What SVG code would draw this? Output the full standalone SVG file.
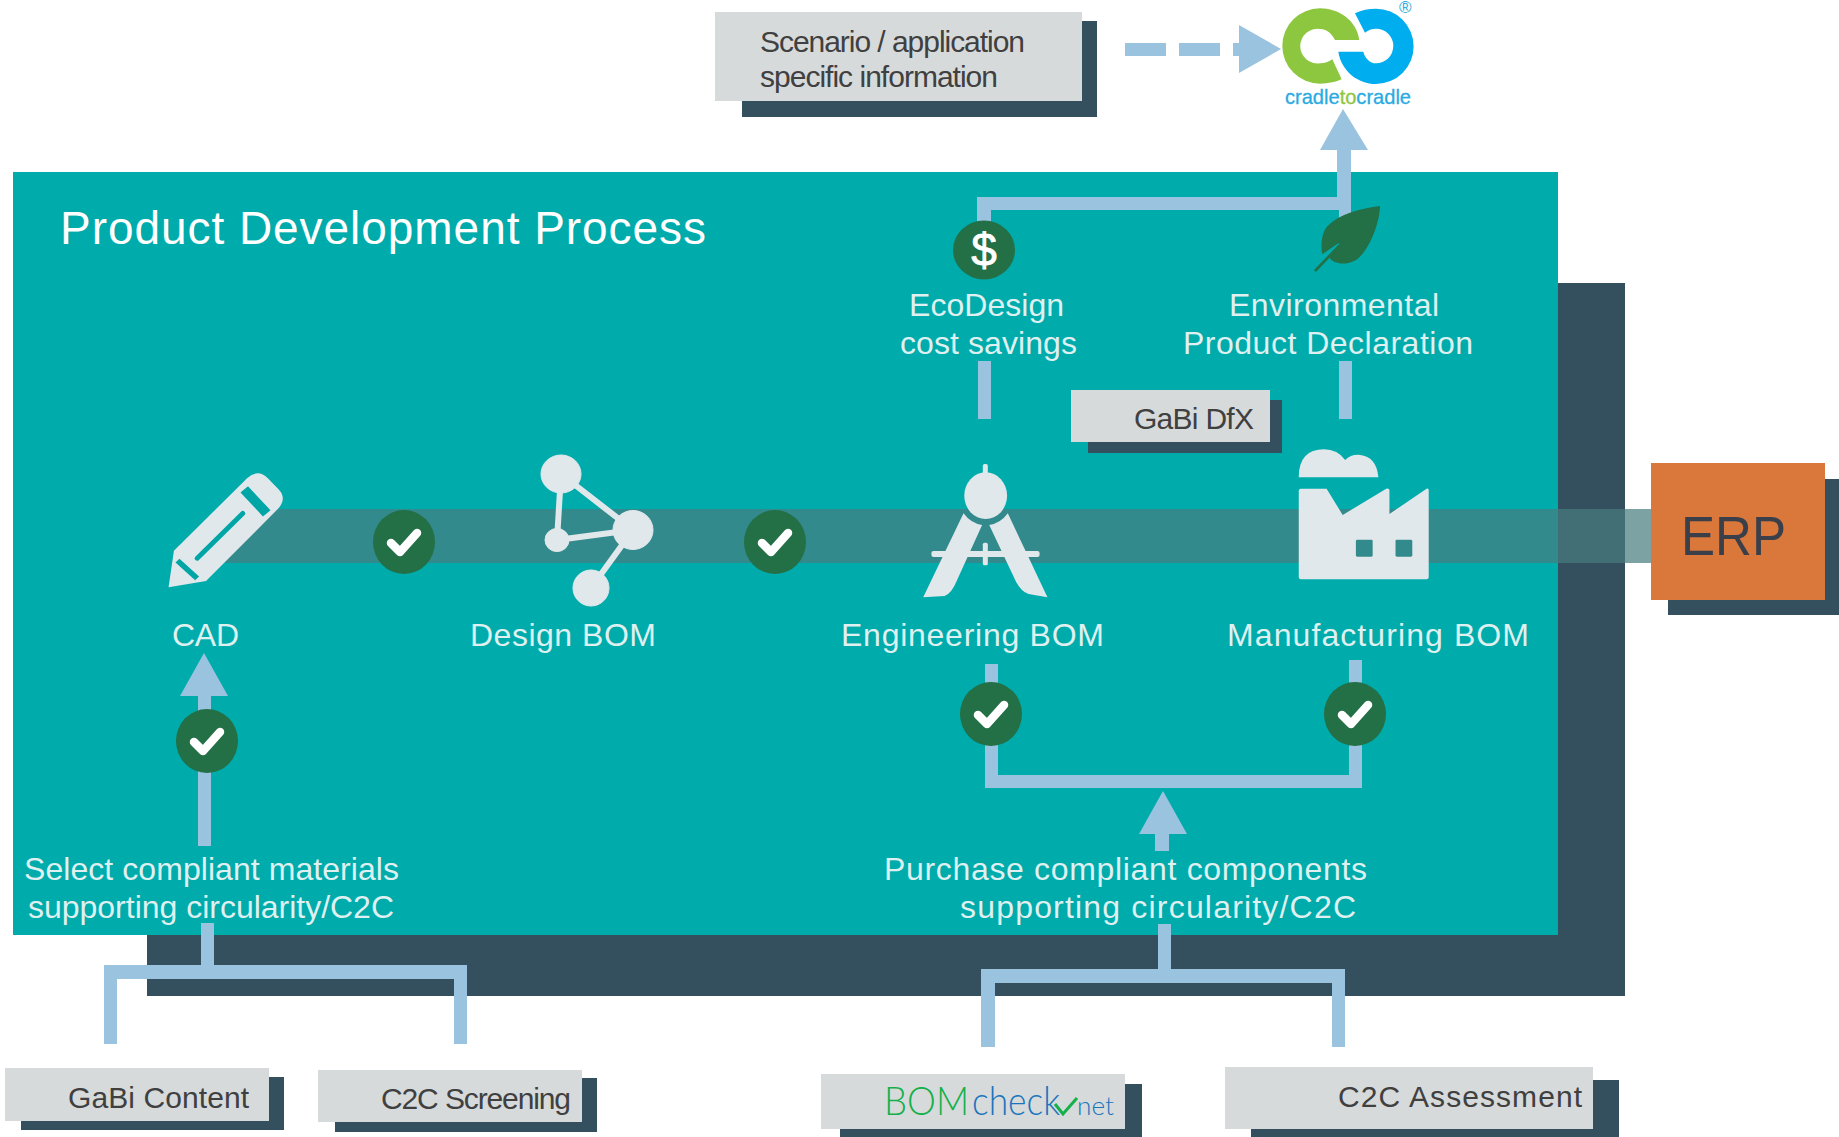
<svg xmlns="http://www.w3.org/2000/svg" width="1839" height="1137" viewBox="0 0 1839 1137">
<style>
text{font-family:"Liberation Sans",Arial,sans-serif}
.lb{font-size:32px;fill:#dff0f0}
.bx{font-size:30px;fill:#404040}
.grey{fill:#d7dadb}
.shadow{fill:#34505f}
.conn{fill:#9ac3df}
.icon{fill:#e1e8eb}
.okc{fill:#236f46}
.okm{fill:none;stroke:#fff;stroke-width:8.5;stroke-linecap:round;stroke-linejoin:round}
</style>
<defs>
<g id="ok"><ellipse rx="31" ry="32" class="okc"/><path d="M-13,1 L-4,10 L13,-9" class="okm"/></g>
</defs>
<rect id="backing" class="shadow" x="147" y="283" width="1478" height="713"/>
<rect id="process-area" x="13" y="172" width="1545" height="763" fill="#00abab"/>
<rect id="band" x="225" y="509" width="1430" height="54" fill="#487c7f" fill-opacity=".71"/>
<text x="60" y="244" font-size="46" fill="#fff" textLength="646">Product Development Process</text>

<g id="connectors">
<rect class="conn" x="1125" y="43" width="41" height="13"/>
<rect class="conn" x="1179" y="43" width="41" height="13"/>
<rect class="conn" x="1233" y="43" width="8" height="13"/>
<path class="conn" d="M1239,25 L1281,49 L1239,73 Z"/>
<path class="conn" d="M1337,200 V150 H1320 L1343,109 L1368,150 H1351 V225 H1339 V210 H977 V222 H991 V210 H977 V197 H1337 Z"/>
<rect class="conn" x="978" y="361" width="13" height="58"/>
<rect class="conn" x="1339" y="361" width="13" height="58"/>
<path class="conn" d="M198,846 V696 H180 L204,653 L228,696 H211 V846 Z"/>
<path class="conn" d="M201,923 H214 V965 H467 V1044 H454 V979 H117 V1044 H104 V965 H201 Z"/>
<path class="conn" d="M1158,924 H1171 V969 H1345 V1047 H1332 V983 H995 V1047 H981 V969 H1158 Z"/>
<path class="conn" d="M985,664 H998 V775 H1349 V660 H1362 V788 H985 Z"/>
<path class="conn" d="M1155,851 V834 H1139 L1163,791 L1187,834 H1169 V851 Z"/>
</g>

<g id="logo-c2c">
<g transform="translate(1100,0) scale(.3333)">
<path fill="#8dc63f" d="M778,120 C770,60 715,25 660,25 A113,113 0 0 0 660,251 C685,251 710,245 725,238 L697,178 C685,186 675,190 660,190 A52,52 0 1 1 660,87 C680,87 695,100 705,120 Z"/>
<path fill="#00aeef" d="M715,155 C725,215 775,252 828,252 A113,113 0 0 0 828,26 C805,26 785,30 765,40 L795,98 C805,90 815,86 828,86 A52,52 0 1 1 828,190 C810,190 795,175 790,155 Z"/>
</g>
<text x="1399" y="13" font-size="17" fill="#29abe2">®</text>
<text x="1285" y="104" font-size="21" textLength="126" lengthAdjust="spacingAndGlyphs" fill="#29abe2" stroke="#29abe2" stroke-width=".3">cradle<tspan fill="#8dc63f" stroke="#8dc63f">to</tspan>cradle</text>
</g>

<g id="scenario"><rect class="shadow" x="742" y="21" width="355" height="96"/><rect class="grey" x="715" y="12" width="367" height="89"/>
<text class="bx" x="760" y="52" textLength="265">Scenario / application</text><text class="bx" x="760" y="87" textLength="238">specific information</text></g>

<g id="ecodesign"><ellipse class="okc" cx="984" cy="250" rx="31" ry="29.5"/><text x="984" y="266" font-size="46" fill="#fff" stroke="#fff" stroke-width=".8" text-anchor="middle">$</text>
<text class="lb" x="909" y="316" textLength="155">EcoDesign</text><text class="lb" x="900" y="354" textLength="177">cost savings</text></g>

<g id="epd"><g transform="translate(1100,0) scale(.3333)"><path fill="#236f46" d="M840,618 C760,628 690,655 672,695 C660,725 665,760 668,762 L715,730 L722,735 L688,772 C700,795 750,800 780,770 C815,735 840,660 840,618 Z"/><path d="M720,735 L645,813" stroke="#236f46" stroke-width="8" fill="none"/></g>
<text class="lb" x="1229" y="316" textLength="210">Environmental</text><text class="lb" x="1183" y="354" textLength="290">Product Declaration</text></g>

<g id="gabi-dfx"><rect class="shadow" x="1088" y="400" width="194" height="53"/><rect class="grey" x="1071" y="390" width="199" height="52"/><text class="bx" x="1134" y="429" textLength="120">GaBi DfX</text></g>

<g id="cad"><g transform="translate(140,430) scale(.357,.3333)">
<path class="icon" d="M95,362 L300,145 Q330,115 358,145 L388,178 Q412,205 388,235 L185,453 L80,472 Z"/>
<path d="M160,385 L288,250" stroke="#00a5a5" stroke-width="14" stroke-linecap="round" fill="none"/>
<path d="M292,178 L355,250" stroke="#00a5a5" stroke-width="28" fill="none"/>
<path d="M105,392 L160,445" stroke="#00a5a5" stroke-width="16" fill="none"/></g>
<text class="lb" x="172" y="646" textLength="67">CAD</text></g>

<g id="design-bom"><g fill="#e1e8eb" stroke="#e1e8eb"><path d="M561,474 L633,530 L557,540 Z M633,530 L591,588" fill="none" stroke-width="6"/>
<ellipse cx="561" cy="474" rx="20" ry="19"/><ellipse cx="633" cy="530" rx="20" ry="19.5"/><ellipse cx="557" cy="540" rx="12" ry="11.5"/><ellipse cx="591" cy="588" rx="18" ry="18"/></g>
<text class="lb" x="470" y="646" textLength="186">Design BOM</text></g>

<g id="engineering-bom"><g class="icon" transform="translate(900,430) scale(.357,.3333)">
<rect x="232" y="102" width="14" height="40" rx="5"/><ellipse cx="240" cy="197" rx="60" ry="70"/>
<path d="M178,250 Q198,280 230,285 L160,450 Q145,490 125,498 L65,502 Z"/>
<path d="M302,250 Q282,280 250,285 L325,455 Q340,485 360,492 L413,502 Z"/>
<rect x="88" y="363" width="303" height="18" rx="6"/><rect x="232" y="338" width="14" height="68" rx="5"/></g>
<text class="lb" x="841" y="646" textLength="263">Engineering BOM</text></g>

<g id="manufacturing-bom"><g transform="translate(900,430) scale(.357,.3333)">
<path class="icon" d="M1117,182 Q1117,176 1123,176 L1195,176 L1240,255 L1362,176 Q1370,174 1371,180 L1371,252 L1475,176 Q1481,174 1481,180 L1481,442 Q1481,448 1475,448 L1123,448 Q1117,448 1117,442 Z"/>
<path class="icon" d="M1117,142 Q1117,58 1188,58 Q1225,58 1247,90 Q1262,73 1285,74 Q1335,78 1340,142 Z"/>
<rect x="1277" y="329" width="47" height="51" rx="4" fill="#338a8c"/><rect x="1388" y="329" width="47" height="51" rx="4" fill="#338a8c"/></g>
<text class="lb" x="1227" y="646" textLength="302">Manufacturing BOM</text></g>

<g id="erp"><rect class="shadow" x="1668" y="479" width="171" height="136"/><rect x="1651" y="463" width="174" height="137" fill="#da783c"/><text x="1681" y="555" font-size="56" fill="#3a3f4a" textLength="105" lengthAdjust="spacingAndGlyphs">ERP</text></g>

<g id="checks"><use href="#ok" x="404" y="542"/><use href="#ok" x="775" y="542"/><use href="#ok" x="207" y="741"/><use href="#ok" x="991" y="714"/><use href="#ok" x="1355" y="714"/></g>

<g id="select-materials"><text class="lb" x="24" y="880" textLength="375">Select compliant materials</text><text class="lb" x="28" y="918" textLength="366">supporting circularity/C2C</text></g>
<g id="purchase-components"><text class="lb" x="884" y="880" textLength="483">Purchase compliant components</text><text class="lb" x="960" y="918" textLength="396">supporting circularity/C2C</text></g>

<g id="gabi-content"><rect class="shadow" x="21" y="1077" width="263" height="53"/><rect class="grey" x="5" y="1068" width="264" height="53"/><text class="bx" x="68" y="1108" textLength="181">GaBi Content</text></g>
<g id="c2c-screening"><rect class="shadow" x="335" y="1078" width="262" height="54"/><rect class="grey" x="318" y="1070" width="264" height="52"/><text class="bx" x="381" y="1109" textLength="190">C2C Screening</text></g>
<g id="bomcheck"><rect class="shadow" x="840" y="1084" width="302" height="53"/><rect class="grey" x="821" y="1074" width="304" height="55"/>
<text x="884" y="1115" font-size="40" fill="#14b04a" textLength="85" lengthAdjust="spacingAndGlyphs" style="font-family:Lato,sans-serif;font-weight:300">BOM</text>
<text x="972" y="1115" font-size="40" fill="#1b75bc" textLength="88" lengthAdjust="spacingAndGlyphs" style="font-family:Lato,sans-serif;font-weight:300">check</text>
<path d="M1055,1104 L1063,1114 L1077,1098" fill="none" stroke="#14b04a" stroke-width="3"/>
<text x="1077" y="1115" font-size="26" fill="#1b75bc" textLength="37" lengthAdjust="spacingAndGlyphs" style="font-family:Lato,sans-serif;font-weight:300">net</text></g>
<g id="c2c-assessment"><rect class="shadow" x="1251" y="1080" width="368" height="57"/><rect class="grey" x="1225" y="1067" width="368" height="62"/><text class="bx" x="1338" y="1107" textLength="244">C2C Assessment</text></g>
</svg>
